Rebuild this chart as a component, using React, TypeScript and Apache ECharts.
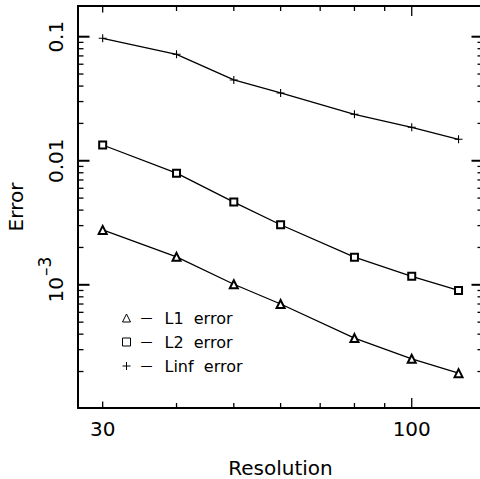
import React, { useEffect, useRef } from 'react';
import * as echarts from 'echarts';

// ---- data ----
const resolution = [30, 40, 50, 60, 80, 100, 120];
const l1Error = [0.00277, 0.00168, 0.00101, 0.0007, 0.000372, 0.000253, 0.000194];
const l2Error = [0.0134, 0.00794, 0.00464, 0.00305, 0.00167, 0.00117, 0.0009];
const linfError = [0.0971, 0.0721, 0.0448, 0.0352, 0.0237, 0.0186, 0.0149];
const seriesNames = ['L1 error', 'L2 error', 'Linf error'];

const xTickValues = [30, 40, 50, 60, 70, 80, 90, 100];
const xLabelValues = [30, 100];
const xLabelTexts = ['30', '100'];
const yMajorTicks = [0.001, 0.01, 0.1];
const yMinorTicks = [
  0.0002, 0.0003, 0.0004, 0.0005, 0.0006, 0.0007, 0.0008, 0.0009,
  0.002, 0.003, 0.004, 0.005, 0.006, 0.007, 0.008, 0.009,
  0.02, 0.03, 0.04, 0.05, 0.06, 0.07, 0.08, 0.09,
];
const yLabelValues = [0.1, 0.01, 0.001];
const yLabelTexts = ['0.1', '0.01', '10'];
const yLabelExponents = ['', '', '–3'];

const X_MIN = 27.25;
const X_MAX = 132;
const Y_MIN = 1.016e-4;
const Y_MAX = 0.1768;
const FONT = 'DejaVu Sans';

export default function App() {
  const ref = useRef<HTMLDivElement>(null);
  useEffect(() => {
    if (!ref.current) return;
    const chart = echarts.init(ref.current, undefined, { renderer: 'svg' });
    const pair = (ys: number[]) => resolution.map((x, i) => [x, ys[i]]);
    const lineSeries = (name: string, ys: number[], symbol: string, size: number) => ({
      type: 'line',
      name,
      data: pair(ys),
      symbol,
      symbolSize: size,
      showSymbol: true,
      lineStyle: { color: '#000', width: 1.3 },
      itemStyle: { color: '#000', borderColor: '#000', borderWidth: 1.1 },
      xAxisIndex: 0,
      yAxisIndex: 0,
      z: 3,
    });
    const plusPath = 'path://M5,0L5,10M0,5L10,5';

    const axisCommon = {
      type: 'log',
      logBase: 10,
      axisLabel: { show: false },
      axisTick: { show: false },
      splitLine: { show: false },
      minorTick: { show: false },
      axisLine: { show: true, lineStyle: { color: '#000', width: 2 } },
    };

    chart.setOption({
      animation: false,
      backgroundColor: '#fff',
      grid: { left: 78, top: 6, width: 405, height: 402, containLabel: false, outerBoundsMode: 'none' },
      xAxis: [
        {
          ...axisCommon,
          position: 'bottom',
          min: X_MIN,
          max: X_MAX,
          name: 'Resolution',
          nameLocation: 'middle',
          nameGap: 50,
          nameTextStyle: { fontFamily: FONT, fontSize: 20, color: '#000' },
        },
        { ...axisCommon, position: 'top', min: X_MIN, max: X_MAX },
      ],
      yAxis: [
        {
          ...axisCommon,
          position: 'left',
          min: Y_MIN,
          max: Y_MAX,
          name: 'Error',
          nameLocation: 'middle',
          nameGap: 52,
          nameRotate: 90,
          nameTextStyle: { fontFamily: FONT, fontSize: 20, color: '#000' },
        },
        { ...axisCommon, position: 'right', min: Y_MIN, max: Y_MAX },
      ],
      legend: {
        orient: 'vertical',
        left: 122,
        top: 310,
        padding: 0,
        itemWidth: 8,
        itemHeight: 8,
        itemGap: 8,
        selectedMode: false,
        data: [
          { name: seriesNames[0], icon: 'triangle', itemStyle: { color: '#fff', borderColor: '#000', borderWidth: 1 } },
          { name: seriesNames[1], icon: 'rect', itemStyle: { color: '#fff', borderColor: '#000', borderWidth: 1 } },
          { name: seriesNames[2], icon: plusPath, itemStyle: { color: '#000', borderColor: '#000', borderWidth: 1 } },
        ],
        formatter: (name: string) => `{d|—}${name.replace(' ', '  ')}`,
        textStyle: {
          fontFamily: FONT,
          fontSize: 16,
          color: '#000',
          rich: { d: { fontFamily: FONT, fontSize: 12, color: '#000', padding: [0, 12, 0, 5] } },
        },
      },
      series: [
        lineSeries(seriesNames[0], l1Error, 'emptyTriangle', 8),
        lineSeries(seriesNames[1], l2Error, 'emptyRect', 7),
        lineSeries(seriesNames[2], linfError, plusPath, 8),
        {
          type: 'custom',
          name: 'xticks',
          silent: true,
          clip: false,
          data: xTickValues.map((v) => [v, Y_MIN]),
          encode: { x: 0, y: 1 },
          renderItem: (params: any, api: any) => {
            const v = api.value(0);
            const b = api.coord([v, Y_MIN]);
            const t = api.coord([v, Y_MAX]);
            const len = v === 100 ? 10 : v === 30 ? 6.5 : 5;
            const st = { stroke: '#000', lineWidth: 1.3 };
            return {
              type: 'group',
              children: [
                { type: 'line', shape: { x1: b[0], y1: b[1], x2: b[0], y2: b[1] - len }, style: st },
                { type: 'line', shape: { x1: t[0], y1: t[1], x2: t[0], y2: t[1] + len }, style: st },
              ],
            };
          },
        },
        {
          type: 'custom',
          name: 'yticks',
          silent: true,
          clip: false,
          data: [...yMajorTicks, ...yMinorTicks].map((v) => [X_MIN, v]),
          encode: { x: 0, y: 1 },
          renderItem: (params: any, api: any) => {
            const v = api.value(1);
            const l = api.coord([X_MIN, v]);
            const r = api.coord([X_MAX, v]);
            const major = params.dataIndex < yMajorTicks.length;
            const len = major ? 11.5 : 5.5;
            const st = { stroke: '#000', lineWidth: major ? 2 : 1.3 };
            return {
              type: 'group',
              children: [
                { type: 'line', shape: { x1: l[0], y1: l[1], x2: l[0] + len, y2: l[1] }, style: st },
                { type: 'line', shape: { x1: r[0], y1: r[1], x2: r[0] - len, y2: r[1] }, style: st },
              ],
            };
          },
        },
        {
          type: 'custom',
          name: 'xlabels',
          silent: true,
          clip: false,
          data: xLabelValues.map((v) => [v, Y_MIN]),
          encode: { x: 0, y: 1 },
          renderItem: (params: any, api: any) => {
            const p = api.coord([api.value(0), Y_MIN]);
            return {
              type: 'text',
              x: p[0],
              y: p[1] + 21,
              style: {
                text: xLabelTexts[params.dataIndex],
                fontFamily: FONT,
                fontSize: 20,
                fill: '#000',
                align: 'center',
                verticalAlign: 'middle',
              },
            };
          },
        },
        {
          type: 'custom',
          name: 'ylabels',
          silent: true,
          clip: false,
          data: yLabelValues.map((v) => [X_MIN, v]),
          encode: { x: 0, y: 1 },
          renderItem: (params: any, api: any) => {
            const p = api.coord([X_MIN, api.value(1)]);
            const i = params.dataIndex;
            const exp = yLabelExponents[i];
            const children: any[] = [
              {
                type: 'text',
                x: p[0] - 22,
                y: p[1] + (exp ? 5 : 0),
                rotation: Math.PI / 2,
                style: {
                  text: yLabelTexts[i],
                  fontFamily: FONT,
                  fontSize: 20,
                  fill: '#000',
                  align: 'center',
                  verticalAlign: 'middle',
                },
              },
            ];
            if (exp) {
              children.push({
                type: 'text',
                x: p[0] - 33,
                y: p[1] - 18.5,
                rotation: Math.PI / 2,
                style: {
                  text: exp,
                  fontFamily: FONT,
                  fontSize: 17,
                  fill: '#000',
                  align: 'center',
                  verticalAlign: 'middle',
                },
              });
            }
            return { type: 'group', children };
          },
        },
      ],
    });
    return () => chart.dispose();
  }, []);
  return (
    <div
      ref={ref}
      style={{ position: 'fixed', left: 0, top: 0, width: 480, height: 479 }}
    />
  );
}
